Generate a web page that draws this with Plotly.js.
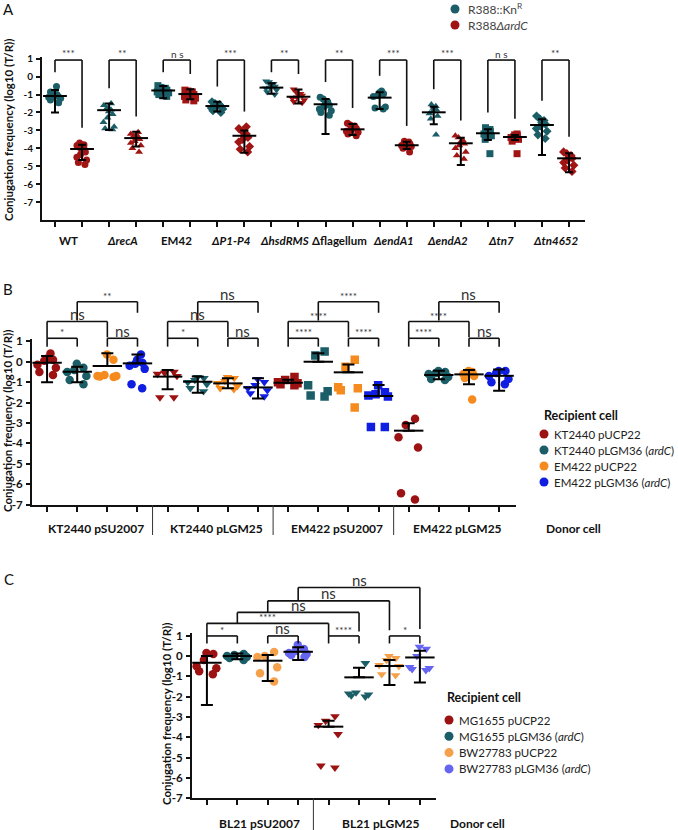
<!DOCTYPE html>
<html><head><meta charset="utf-8">
<script src="https://cdn.plot.ly/plotly-3.0.1.min.js"></script>
<style>body{margin:0;background:#fff}</style></head>
<body><div id="chart" style="width:678px;height:830px"></div>
<script>
// ================= PANEL A DATA =================
const strainsA = ['WT','<i>ΔrecA</i>','EM42','<i>ΔP1-P4</i>','<i>ΔhsdRMS</i>','Δflagellum','<i>ΔendA1</i>','<i>ΔendA2</i>','<i>Δtn7</i>','<i>Δtn4652</i>'];
const seriesA = ['R388::Kn<sup>R</sup>','R388<i>ΔardC</i>'];
const sigA = ['***','**','n s','***','**','**','***','***','n s','**'];
const knPtsA = [
  [-0.55,-0.85,-0.95,-1.0,-1.05,-1.1,-1.15,-1.2,-1.3,-1.45,-1.1],
  [-1.5,-1.6,-1.75,-1.85,-1.95,-2.1,-2.3,-2.55,-2.8,-2.9,-2.95],
  [-0.5,-0.6,-0.65,-0.7,-0.75,-0.8,-0.85,-0.9,-1.0,-1.1],
  [-1.4,-1.5,-1.55,-1.6,-1.65,-1.7,-1.75,-1.8,-1.9,-2.0],
  [-0.25,-0.3,-0.4,-0.5,-0.55,-0.6,-0.65,-0.75,-0.85,-1.0],
  [-1.15,-1.25,-1.4,-1.5,-1.6,-1.7,-1.8,-1.9,-2.0,-2.15],
  [-0.8,-0.9,-0.95,-1.05,-1.1,-1.7,-1.75,-1.8],
  [-1.55,-1.65,-1.75,-1.85,-1.95,-2.05,-2.2,-2.35,-3.25],
  [-2.85,-2.95,-3.0,-3.05,-3.1,-3.2,-3.3,-3.5,-4.3],
  [-2.2,-2.35,-2.45,-2.55,-2.65,-2.75,-2.9,-3.05,-3.25,-3.45]
];
const knMeanA = [-1.08,-1.87,-0.77,-1.64,-0.61,-1.54,-1.17,-1.99,-3.16,-2.70];
const knUpA   = [-0.75,-1.50,-0.52,-1.40,-0.37,-1.25,-0.87,-1.68,-2.94,-2.38];
const knLoA   = [-2.00,-2.98,-1.20,-1.95,-0.95,-3.20,-1.80,-2.66,-3.54,-4.37];
const ardPtsA = [
  [-3.7,-3.8,-3.85,-3.95,-4.0,-4.1,-4.2,-4.35,-4.5,-4.65,-4.8,-4.9],
  [-3.1,-3.2,-3.3,-3.35,-3.45,-3.5,-3.6,-3.7,-3.85,-4.0,-4.2],
  [-0.75,-0.8,-0.85,-0.95,-1.0,-1.05,-1.1,-1.2,-1.3,-1.35],
  [-2.8,-2.9,-3.05,-3.2,-3.3,-3.4,-3.5,-3.65,-3.9,-4.05,-4.2],
  [-0.7,-0.85,-0.95,-1.0,-1.05,-1.15,-1.2,-1.3,-1.4,-1.45],
  [-2.6,-2.7,-2.75,-2.85,-2.9,-3.0,-3.05,-3.1,-3.2,-3.3],
  [-3.6,-3.65,-3.7,-3.75,-3.8,-3.85,-3.9,-4.0,-4.2],
  [-3.3,-3.4,-3.55,-3.65,-3.75,-3.85,-4.0,-4.2,-4.4,-4.6],
  [-3.2,-3.25,-3.3,-3.35,-3.4,-3.5,-3.6,-4.3],
  [-4.2,-4.3,-4.4,-4.5,-4.55,-4.65,-4.8,-4.95,-5.1,-5.3]
];
const ardMeanA = [-4.04,-3.43,-0.97,-3.30,-1.12,-2.94,-3.83,-3.72,-3.37,-4.56];
const ardUpA   = [-3.80,-3.07,-0.70,-3.00,-0.72,-2.64,-3.63,-3.41,-3.26,-4.28];
const ardLoA   = [-4.65,-3.90,-1.26,-4.25,-1.50,-3.26,-4.04,-4.93,-3.54,-5.34];
const yTicks = [1,0,-1,-2,-3,-4,-5,-6,-7];
const yTickText = ['1','0','-1','-2','-3','-4','-5','-6','-7'];

// ================= PANEL B DATA =================
const donorsB = ['KT2440 pSU2007','KT2440 pLGM25','EM422 pSU2007','EM422 pLGM25'];
const recipB = ['KT2440 pUCP22','KT2440 pLGM36 (<i>ardC</i>)','EM422 pUCP22','EM422 pLGM36 (<i>ardC</i>)'];
const ptsB_ktUCP = [[0.4,0.15,0.1,0.05,-0.15,-0.3,-0.5,-0.65],[-0.5,-0.55,-0.6,-0.7,-1.75,-1.75],[-0.75,-0.9,-1.0,-1.05,-1.1,-1.15],[-2.8,-3.1,-3.7,-4.2,-6.45,-6.75]];
const ptsB_ktLGM = [[-0.1,-0.3,-0.4,-0.5,-0.7,-0.9,-1.1],[-0.75,-0.8,-0.9,-1.0,-1.1,-1.3,-1.45],[0.5,0.3,-1.15,-1.45,-1.7,-1.65],[-0.45,-0.5,-0.55,-0.6,-0.75,-0.85,-0.9]];
const ptsB_emUCP = [[0.35,0.1,-0.65,-0.7,-0.72,-0.75,-0.7],[-0.75,-0.8,-0.95,-1.05,-1.2,-1.3,-1.35],[0.1,-0.25,-1.3,-1.25,-1.4,-2.25],[-0.45,-0.5,-0.55,-0.6,-0.7,-0.8,-1.85]];
const ptsB_emLGM = [[0.35,0.1,-0.05,-0.1,-0.2,-0.35,-1.1,-1.3],[-0.85,-1.0,-1.15,-1.3,-1.4,-1.55,-1.7],[-1.15,-1.5,-1.6,-1.65,-1.7,-3.2,-3.2],[-0.45,-0.45,-0.55,-0.7,-0.85,-1.0,-1.1]];
const meanB = [[-0.05,-0.73,-1.03,-3.38],[-0.49,-0.98,0.0,-0.65],[-0.21,-1.06,-0.52,-0.62],[-0.08,-1.26,-1.68,-0.69]];
const upB   = [[0.28,-0.41,-0.88,-3.02],[-0.25,-0.73,0.41,-0.44],[0.42,-0.81,-0.13,-0.41],[0.36,-0.81,-1.14,-0.38]];
const loB   = [[-1.0,-1.35,null,null],[-1.01,-1.52,null,-0.86],[null,-1.3,null,-1.11],[null,-1.8,null,-1.42]];
const sigB_low1 = ['*','*','****','****'];   // recipient 1 vs 2
const sigB_low2 = ['ns','ns','****','ns'];   // recipient 3 vs 4
const sigB_mid  = ['ns','ns','****','****']; // recipient 1 vs 3
const sigB_top  = ['**','ns','****','ns'];   // recipient 2 vs 4

// ================= PANEL C DATA =================
const donorsC = ['BL21 pSU2007','BL21 pLGM25'];
const recipC = ['MG1655 pUCP22','MG1655 pLGM36 (<i>ardC</i>)','BW27783 pUCP22','BW27783 pLGM36 (<i>ardC</i>)'];
const ptsC_mgUCP = [[0.15,0.1,-0.2,-0.5,-0.6,-0.75,-0.9],[-2.97,-3.2,-3.4,-3.85,-5.5,-5.4]];
const ptsC_mgLGM = [[0.1,0.05,0.0,-0.05,-0.1,-0.2],[-0.35,-1.8,-1.85,-1.9,-1.95,-2.0]];
const ptsC_bwUCP = [[0.2,0.0,-0.05,-0.55,-0.85,-1.25],[0.0,-0.1,-0.2,-0.45,-0.5,-0.9,-0.95]];
const ptsC_bwLGM = [[0.55,0.35,0.25,0.15,0.1,0.05,-0.05],[0.45,0.35,0.0,-0.55,-0.6,-0.65,-0.7]];
const meanC = [[-0.33,-3.48],[0.0,-1.05],[-0.23,-0.49],[0.21,-0.07]];
const upC   = [[0.0,-3.19],[0.13,-0.58],[0.05,-0.2],[0.43,0.26]];
const loC   = [[-2.41,null],[-0.16,null],[-1.23,-1.43],[-0.2,-1.3]];
const sigC_pairs = ['*','ns','****','*'];       // 1v2, 3v4 (donor 1), 1v2, 3v4 (donor 2)
const sigC_cross = ['****','ns','ns','ns'];     // recipient k, donor 1 vs donor 2

// ================= STYLE / GEOMETRY =================
const FONT = 'Lato, "Open Sans", sans-serif';
const W = 678, H = 830;
const PX = v => v / W, PY = v => 1 - v / H;
const P = {
  A:{xa:'x', ya:'y', xr:[-0.48,19.59], yr:[-8,1.1], dom:[[42,585],[57,219.9]]},
  B:{xa:'x2', ya:'y2', xr:[-0.5,15.56], yr:[-7,1.1], dom:[[32,516],[339.3,504.5]]},
  C:{xa:'x3', ya:'y3', xr:[-0.49,7.53], yr:[-7,1.15], dom:[[192,436],[632.7,798.1]]}
};
const fx = (p,v) => (v - p.xr[0]) / (p.xr[1] - p.xr[0]);
const fy = (p,v) => (v - p.yr[0]) / (p.yr[1] - p.yr[0]);
const paperY = (p,v) => PY(p.dom[1][1]) + fy(p,v) * (PY(p.dom[1][0]) - PY(p.dom[1][1]));
const colA = ['#1b5e68','#a11414'];
const colB = ['#9c1212','#1b5e68','#f58a1f','#0f1ee0'];
const colC = ['#9c1212','#1b5e68','#f5a14c','#6565f2'];
const symA = ['circle','triangle-up','square','diamond','triangle-down','circle','circle','triangle-up','square','diamond'];
const symB = ['circle','triangle-down','square','circle'];
const symC = ['circle','triangle-down'];

const traces = [], shapes = [], annotations = [];

function pts(p, pos, vals, color, symbol, size, width) {
  return {type:'box', xaxis:p.xa, yaxis:p.ya, x: vals.map(() => pos), y: vals,
    boxpoints:'all', jitter:1, pointpos:0, width: width,
    fillcolor:'rgba(0,0,0,0)', line:{width:0, color:'rgba(0,0,0,0)'}, whiskerwidth:0,
    marker:{color: color, symbol: symbol, size: size, line:{width:0}},
    hoverinfo:'skip', showlegend:false};
}
function meanT(p, xs, m, up, lo, msize, capw) {
  return {type:'scatter', mode:'markers', xaxis:p.xa, yaxis:p.ya, x: xs, y: m,
    marker:{symbol:'line-ew', size: msize, color:'#000', line:{width:2, color:'#000'}},
    error_y:{type:'data', symmetric:false, array: up.map((u,i) => u - m[i]),
      arrayminus: lo.map((l,i) => l === null ? 0 : m[i] - l), color:'#000', thickness:2, width: capw},
    hoverinfo:'skip', showlegend:false, cliponaxis:false};
}
function seg(p, x0, y0, x1, y1, w) {
  shapes.push({type:'line', xref:p.xa+' domain', yref:p.ya+' domain',
    x0:fx(p,x0), y0:fy(p,y0), x1:fx(p,x1), y1:fy(p,y1), line:{color:'#111', width:w||1.6}});
}
function bracket(p, i, j, top, le, re, label, size, yshift) {
  seg(p, i, le, i, top); seg(p, i, top, j, top); seg(p, j, top, j, re);
  annotations.push({xref:p.xa, yref:'paper', x:(i+j)/2, y:paperY(p, top), text:label, showarrow:false,
    xanchor:'center', yanchor:'bottom', yshift: yshift, font:{family:FONT, size:size, color:'#333'}});
}
function txt(x, y, text, size, opts) {
  annotations.push(Object.assign({xref:'paper', yref:'paper', x:PX(x), y:PY(y), text:text, showarrow:false,
    xanchor:'center', yanchor:'middle', font:{family:FONT, size:size, color:'#111'}}, opts||{}));
}
function dot(x, y, color, r) {
  shapes.push({type:'circle', xref:'paper', yref:'paper', xsizemode:'pixel', ysizemode:'pixel',
    xanchor:PX(x), yanchor:PY(y), x0:-r, x1:r, y0:-r, y1:r, fillcolor:color, line:{width:0}});
}
const sz = s => (s === 'ns') ? 15 : 10;
const ysh = s => (s === 'ns') ? -3.5 : -2;

// ---------- Panel A ----------
{
  const p = P.A; const xs=[], m=[], u=[], l=[];
  strainsA.forEach((s,k) => {
    traces.push(pts(p, 2*k, knPtsA[k], colA[0], symA[k], 7, 0.55));
    traces.push(pts(p, 2*k+1, ardPtsA[k], colA[1], symA[k], 7, 0.55));
    xs.push(2*k, 2*k+1); m.push(knMeanA[k], ardMeanA[k]); u.push(knUpA[k], ardUpA[k]); l.push(knLoA[k], ardLoA[k]);
    const topL = Math.max(knUpA[k], ...knPtsA[k]), topR = Math.max(ardUpA[k], ...ardPtsA[k]);
    bracket(p, 2*k, 2*k+1, 0.93, Math.min(0.25, topL + 0.85), Math.min(0.25, topR + 0.85), sigA[k], 10, sigA[k]==='n s'?-2:-1);
    annotations.push({xref:p.xa, yref:'paper', x:2*k+0.5, y:PY(240), text:'<b>'+s+'</b>', showarrow:false,
      xanchor:'center', yanchor:'middle', font:{family:FONT, size:11.5, color:'#111'}});
  });
  traces.push(meanT(p, xs, m, u, l, 17, 4));
  txt(9, 130, 'Conjugation frequency (log10 (T/R))', 11.5, {textangle:-90, font:{family:FONT, size:11.5, color:'#111', weight:'bold'}});
  txt(8, 9, 'A', 15);
  seriesA.forEach((s,i) => { dot(455, 9+16*i, colA[i], 4.5); txt(466, 9+16*i, s, 12, {xanchor:'left', font:{family:FONT, size:12, color:'#444'}}); });
}

// ---------- Panel B ----------
{
  const p = P.B; const allPts = [ptsB_ktUCP, ptsB_ktLGM, ptsB_emUCP, ptsB_emLGM];
  const xs=[], m=[], u=[], l=[];
  donorsB.forEach((d,g) => {
    allPts.forEach((arr,r) => {
      traces.push(pts(p, 4*g+r, arr[g], colB[r], symB[g], 8.5, 0.8));
      xs.push(4*g+r); m.push(meanB[r][g]); u.push(upB[r][g]); l.push(loB[r][g]);
    });
    const b = 4*g;
    bracket(p, b, b+1, 1.15, 0.74, 0.74, sigB_low1[g], sz(sigB_low1[g]), ysh(sigB_low1[g]));
    bracket(p, b+2, b+3, 1.15, 0.74, 0.74, sigB_low2[g], sz(sigB_low2[g]), ysh(sigB_low2[g]));
    bracket(p, b, b+2, 1.97, 1.15, 1.2, sigB_mid[g], sz(sigB_mid[g]), ysh(sigB_mid[g]));
    bracket(p, b+1, b+3, 2.94, 2.02, 2.4, sigB_top[g], sz(sigB_top[g]), ysh(sigB_top[g]));
    annotations.push({xref:p.xa, yref:'paper', x:b+1.5, y:PY(528), xshift:4, text:'<b>'+d+'</b>', showarrow:false,
      xanchor:'center', yanchor:'middle', font:{family:FONT, size:12, color:'#111'}});
    if (g > 0) shapes.push({type:'line', xref:p.xa+' domain', yref:'paper', x0:fx(p,b-0.5), x1:fx(p,b-0.5), y0:PY(505), y1:PY(535), line:{color:'#333', width:1}});
  });
  traces.push(meanT(p, xs, m, u, l, 21, 6));
  txt(7, 421, 'Conjugation frequency (log10 (T/R))', 11.5, {textangle:-90, font:{family:FONT, size:11.5, color:'#111', weight:'bold'}});
  txt(8, 289, 'B', 15);
  txt(573, 528, '<b>Donor cell</b>', 12);
  txt(542, 415, '<b>Recipient cell</b>', 12.5, {xanchor:'left'});
  recipB.forEach((s,i) => { dot(544, 434+16*i, colB[i], 4.5); txt(552, 434+16*i, s, 11.5, {xanchor:'left', font:{family:FONT, size:11.5, color:'#222'}}); });
}

// ---------- Panel C ----------
{
  const p = P.C; const allPts = [ptsC_mgUCP, ptsC_mgLGM, ptsC_bwUCP, ptsC_bwLGM];
  const xs=[], m=[], u=[], l=[];
  donorsC.forEach((d,g) => {
    allPts.forEach((arr,r) => {
      traces.push(pts(p, 4*g+r, arr[g], colC[r], symC[g], 8.5, 0.8));
      xs.push(4*g+r); m.push(meanC[r][g]); u.push(upC[r][g]); l.push(loC[r][g]);
    });
    annotations.push({xref:p.xa, yref:'paper', x:4*g+1.5, y:PY(823), xshift:7, text:'<b>'+d+'</b>', showarrow:false,
      xanchor:'center', yanchor:'middle', font:{family:FONT, size:12, color:'#111'}});
  });
  sigC_pairs.forEach((s,k) => bracket(p, 2*k, 2*k+1, 0.99, 0.62, 0.62, s, sz(s), ysh(s)));
  const levels = [1.61, 2.15, 2.72, 3.38];
  sigC_cross.forEach((s,k) => {
    const le = k === 0 ? 0.99 : levels[k-1];
    const re = k === 0 ? 0.99 : 1.15 + 0.06*k;
    bracket(p, k, k+4, levels[k], le, re, s, sz(s), ysh(s));
  });
  traces.push(meanT(p, xs, m, u, l, 21, 6));
  shapes.push({type:'line', xref:p.xa+' domain', yref:'paper', x0:fx(p,3.5), x1:fx(p,3.5), y0:PY(798), y1:PY(830), line:{color:'#333', width:1}});
  txt(166, 714, 'Conjugation frequency (log10 (T/R))', 11.5, {textangle:-90, font:{family:FONT, size:11.5, color:'#111', weight:'bold'}});
  txt(9, 579, 'C', 15);
  txt(477, 823, '<b>Donor cell</b>', 12);
  txt(445, 697, '<b>Recipient cell</b>', 12.5, {xanchor:'left'});
  recipC.forEach((s,i) => { dot(449, 720+16.3*i, colC[i], 4.5); txt(457, 720+16.3*i, s, 11.5, {xanchor:'left', font:{family:FONT, size:11.5, color:'#222'}}); });
}

function xAxis(p, n) {
  return {domain:[PX(p.dom[0][0]), PX(p.dom[0][1])], range:p.xr, anchor:p.ya, tickvals:[...Array(n).keys()],
    ticks:'outside', ticklen:5, tickwidth:2, tickcolor:'#111', showticklabels:false,
    showline:true, linewidth:2, linecolor:'#111', showgrid:false, zeroline:false, fixedrange:true};
}
function yAxis(p, size) {
  return {domain:[PY(p.dom[1][1]), PY(p.dom[1][0])], range:p.yr, anchor:p.xa, tickvals:yTicks, ticktext:yTickText,
    ticks:'outside', ticklen:4, tickwidth:2, tickcolor:'#111', ticklabelstandoff:1,
    tickfont:{family:FONT, size:size, color:'#111', weight:'bold'},
    showline:true, linewidth:2, linecolor:'#111', showgrid:false, zeroline:false, fixedrange:true};
}
const layout = {
  width:W, height:H, margin:{l:0,r:0,t:0,b:0}, paper_bgcolor:'#fff', plot_bgcolor:'rgba(0,0,0,0)',
  showlegend:false, boxmode:'overlay',
  xaxis:xAxis(P.A, 20), yaxis:yAxis(P.A, 10),
  xaxis2:xAxis(P.B, 16), yaxis2:yAxis(P.B, 11.5),
  xaxis3:xAxis(P.C, 8), yaxis3:yAxis(P.C, 11.5),
  shapes:shapes, annotations:annotations
};
Plotly.newPlot('chart', traces, layout, {staticPlot:true, displayModeBar:false});
</script></body></html>
